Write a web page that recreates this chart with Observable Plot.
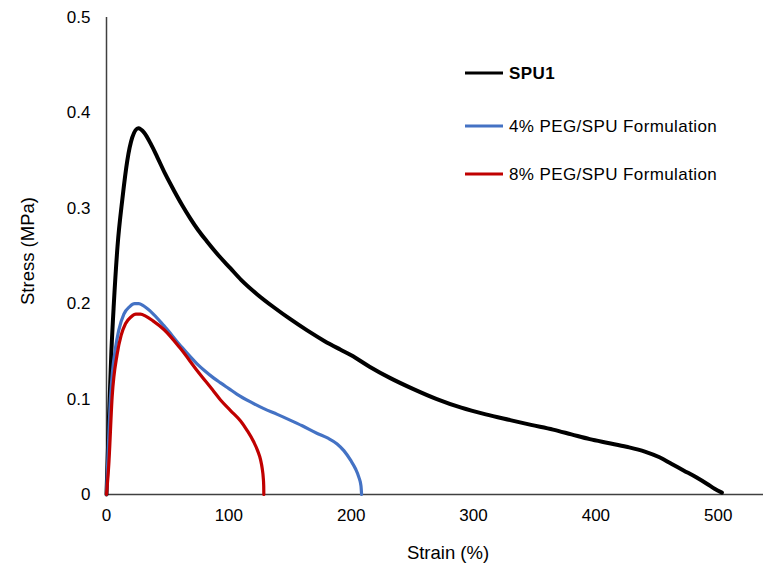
<!DOCTYPE html>
<html>
<head>
<meta charset="utf-8">
<script src="https://cdn.jsdelivr.net/npm/d3@7"></script>
<script src="https://cdn.jsdelivr.net/npm/@observablehq/plot@0.6"></script>
<style>
  html, body { margin: 0; padding: 0; background: #fff; }
  #wrap { position: relative; width: 763px; height: 565px; overflow: hidden; font-family: "Liberation Sans", Arial, sans-serif; }
  #legend { position: absolute; left: 0; top: 0; }
</style>
</head>
<body>
<div id="wrap"><div id="chart"></div><svg id="legend" width="763" height="565"></svg></div>
<script>
// ---- data ----
const seriesNames = ["SPU1", "4% PEG/SPU Formulation", "8% PEG/SPU Formulation"];
const seriesColors = ["#000000", "#4472C4", "#C00000"];

const spu1Strain = [0, 2, 4, 6, 9, 13, 17, 21, 26, 31, 36, 41.4, 48, 55, 62, 68.7, 75, 82.3, 92, 101.4, 110, 123, 137, 150, 164, 178, 191, 200, 215, 232, 250, 270, 290, 310, 330, 347, 365, 380, 395, 410, 425, 440, 452, 462, 472, 482, 491, 497, 503];
const spu1Stress = [0, 0.08, 0.15, 0.2, 0.26, 0.31, 0.35, 0.374, 0.384, 0.379, 0.368, 0.354, 0.336, 0.319, 0.303, 0.289, 0.277, 0.265, 0.25, 0.237, 0.225, 0.21, 0.196, 0.184, 0.172, 0.161, 0.152, 0.146, 0.134, 0.122, 0.111, 0.1, 0.091, 0.084, 0.078, 0.073, 0.068, 0.063, 0.058, 0.054, 0.05, 0.045, 0.039, 0.032, 0.025, 0.018, 0.011, 0.006, 0.002];

const peg4Strain = [0, 1.5, 3.3, 5, 7.4, 10, 14.2, 19, 23, 26.4, 30, 36, 46.9, 60.5, 74, 80, 87.7, 93.2, 100, 106.8, 117.7, 128.6, 139.6, 150, 160, 172.3, 181, 188.5, 194, 199.5, 203.5, 206.3, 208, 208.5];
const peg4Stress = [0, 0.05, 0.102, 0.13, 0.154, 0.172, 0.189, 0.197, 0.2, 0.2, 0.198, 0.192, 0.177, 0.156, 0.137, 0.13, 0.122, 0.117, 0.111, 0.105, 0.097, 0.09, 0.084, 0.078, 0.072, 0.064, 0.059, 0.053, 0.046, 0.036, 0.027, 0.018, 0.009, 0];

const peg8Strain = [0, 1.9, 4.6, 8.7, 12, 15.5, 20, 24, 27.8, 32, 38, 46.9, 60.5, 74, 87.7, 93.2, 101.4, 109.6, 115, 120.4, 123.5, 126, 127.3, 128.1, 128.5, 128.6];
const peg8Stress = [0, 0.032, 0.102, 0.147, 0.167, 0.179, 0.186, 0.189, 0.189, 0.187, 0.182, 0.173, 0.153, 0.13, 0.108, 0.099, 0.088, 0.077, 0.067, 0.055, 0.046, 0.036, 0.027, 0.018, 0.009, 0];

const xTicks = [0, 100, 200, 300, 400, 500];
const yTicks = [0, 0.1, 0.2, 0.3, 0.4, 0.5];
const yTickLabels = ["0", "0.1", "0.2", "0.3", "0.4", "0.5"];
const xTitle = "Strain (%)";
const yTitle = "Stress (MPa)";

// ---- build rows ----
function rows(name, xs, ys) { return xs.map((x, i) => ({series: name, strain: x, stress: ys[i]})); }
const spu1 = rows(seriesNames[0], spu1Strain, spu1Stress);
const peg4 = rows(seriesNames[1], peg4Strain, peg4Stress);
const peg8 = rows(seriesNames[2], peg8Strain, peg8Stress);

const font = "'Liberation Sans', Arial, sans-serif";
const axisColor = "#404040";

const chart = Plot.plot({
  width: 763,
  height: 565,
  marginLeft: 106,
  marginRight: 0,
  marginTop: 17,
  marginBottom: 71,
  style: {fontFamily: font, fontSize: "17px", color: "#000", background: "#fff", overflow: "visible"},
  x: {domain: [0, 537]},
  y: {domain: [0, 0.5]},
  color: {domain: seriesNames, range: seriesColors},
  marks: [
    Plot.axisX(xTicks, {tickSize: 0, tickPadding: 14, label: null, fontSize: 17, fill: "#000"}),
    Plot.axisY(yTicks, {tickSize: 0, tickPadding: 16, label: null, fontSize: 17, fill: "#000",
      tickFormat: d => yTickLabels[yTicks.indexOf(d)]}),
    Plot.ruleY([0], {stroke: axisColor, strokeWidth: 1.5}),
    Plot.ruleX([0], {stroke: axisColor, strokeWidth: 1.5}),
    Plot.line(spu1, {x: "strain", y: "stress", stroke: "series", strokeWidth: 4, curve: "monotone-x"}),
    Plot.line(peg4, {x: "strain", y: "stress", stroke: "series", strokeWidth: 3.2, curve: "monotone-x"}),
    Plot.line(peg8, {x: "strain", y: "stress", stroke: "series", strokeWidth: 3.2, curve: "monotone-x"}),
    Plot.text([xTitle], {text: d => d, frameAnchor: "bottom", textAnchor: "middle", lineAnchor: "middle", dy: 59, dx: 13, fontSize: 18.5, fill: "#000"}),
    Plot.text([yTitle], {text: d => d, frameAnchor: "left", textAnchor: "middle", lineAnchor: "middle", rotate: -90, dx: -78, dy: -5, fontSize: 18.5, fill: "#000"})
  ]
});
document.getElementById("chart").appendChild(chart);

// ---- legend ----
const legend = d3.select("#legend");
const legendRowY = [73, 126, 174];
const g = legend.selectAll("g").data(seriesNames).join("g")
  .attr("transform", (d, i) => `translate(0,${legendRowY[i]})`);
g.append("line").attr("x1", 465).attr("x2", 503).attr("y1", 0).attr("y2", 0)
  .attr("stroke", (d, i) => seriesColors[i]).attr("stroke-width", 3);
g.append("text").attr("x", 509).attr("y", 0).attr("dy", "0.35em")
  .attr("font-family", font).attr("font-size", 17).attr("letter-spacing", 0.4)
  .attr("font-weight", (d, i) => i === 0 ? "bold" : "normal")
  .text(d => d);
</script>
</body>
</html>
